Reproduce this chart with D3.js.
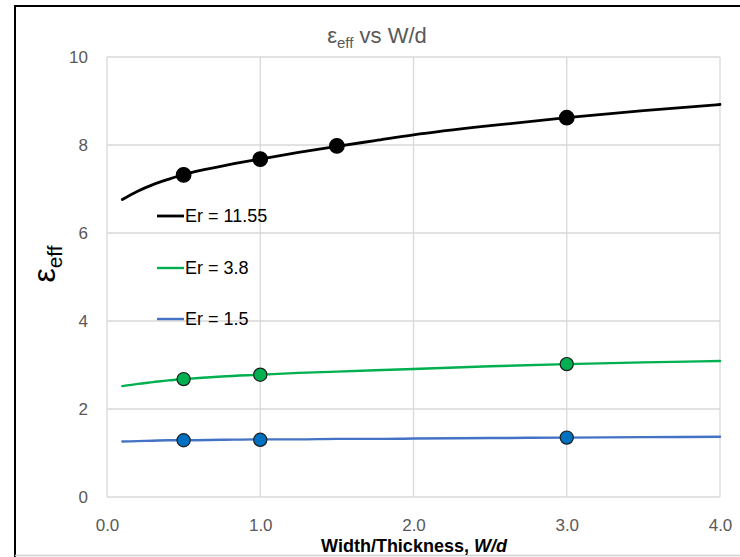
<!DOCTYPE html>
<html>
<head>
<meta charset="utf-8">
<script src="https://cdn.jsdelivr.net/npm/d3@7"></script>
<style>
  html, body { margin: 0; padding: 0; background: #fff; }
  svg { display: block; }
  text { font-family: "Liberation Sans", Arial, sans-serif; }
</style>
</head>
<body>
<svg id="chart" width="740" height="557"></svg>
<script>
// Effective permittivity vs width/thickness for three substrate permittivities
const wdGrid = [0.1, 0.2, 0.3, 0.4, 0.5, 0.75, 1.0, 1.25, 1.5, 1.75, 2.0, 2.5, 3.0, 3.5, 4.0];
const eps1155 = [6.76, 6.95, 7.10, 7.22, 7.33, 7.52, 7.68, 7.83, 7.97, 8.10, 8.23, 8.44, 8.62, 8.78, 8.92];
const eps38   = [2.52, 2.57, 2.61, 2.65, 2.68, 2.74, 2.78, 2.82, 2.85, 2.88, 2.91, 2.97, 3.02, 3.06, 3.09];
const eps15   = [1.26, 1.27, 1.28, 1.29, 1.29, 1.30, 1.31, 1.31, 1.32, 1.32, 1.33, 1.34, 1.35, 1.36, 1.37];

// Measured points
const ptsX1155 = [0.5, 1.0, 1.5, 3.0];
const ptsY1155 = [7.32, 7.68, 7.98, 8.62];
const ptsX38 = [0.5, 1.0, 3.0];
const ptsY38 = [2.68, 2.78, 3.02];
const ptsX15 = [0.5, 1.0, 3.0];
const ptsY15 = [1.29, 1.30, 1.35];

const seriesNames = ["Er = 11.55", "Er = 3.8", "Er = 1.5"];
const xTicks = [0, 1, 2, 3, 4];
const yTicks = [0, 2, 4, 6, 8, 10];

const svg = d3.select("#chart");
const plotL = 107, plotR = 720, plotT = 57, plotB = 497;

const x = d3.scaleLinear().domain([0, 4]).range([plotL, plotR]);
const y = d3.scaleLinear().domain([0, 10]).range([plotB, plotT]);

// Outer frame
svg.append("line").attr("x1", 15).attr("x2", 740).attr("y1", 6).attr("y2", 6)
  .attr("stroke", "#000").attr("stroke-width", 2);
svg.append("line").attr("x1", 15).attr("x2", 15).attr("y1", 5).attr("y2", 557)
  .attr("stroke", "#000").attr("stroke-width", 2);
svg.append("line").attr("x1", 15).attr("x2", 740).attr("y1", 555.5).attr("y2", 555.5)
  .attr("stroke", "#d0d0d0").attr("stroke-width", 1.5);

// Gridlines
const grid = svg.append("g").attr("stroke", "#d9d9d9").attr("stroke-width", 1.3);
xTicks.forEach(t => grid.append("line")
  .attr("x1", x(t)).attr("x2", x(t)).attr("y1", plotT).attr("y2", plotB));
yTicks.forEach(t => grid.append("line")
  .attr("x1", plotL).attr("x2", plotR).attr("y1", y(t)).attr("y2", y(t)));

// Axes (labels only)
const xAxis = svg.append("g").attr("transform", `translate(0,${plotB})`)
  .call(d3.axisBottom(x).tickValues(xTicks).tickFormat(d3.format(".1f")).tickSize(0).tickPadding(22));
const yAxis = svg.append("g").attr("transform", `translate(${plotL},0)`)
  .call(d3.axisLeft(y).tickValues(yTicks).tickFormat(d3.format("d")).tickSize(0).tickPadding(19));
[xAxis, yAxis].forEach(a => {
  a.select(".domain").remove();
  a.selectAll("text").attr("fill", "#595959").attr("font-size", 17)
    .attr("font-family", "'Liberation Sans', Arial, sans-serif");
});

// Curves
const line = d3.line().x(d => x(d[0])).y(d => y(d[1])).curve(d3.curveMonotoneX);
const curves = [
  { vals: eps1155, color: "#000000", width: 2.8 },
  { vals: eps38, color: "#00b050", width: 2.4 },
  { vals: eps15, color: "#4472c4", width: 2.4 }
];
curves.forEach(c => {
  svg.append("path").datum(wdGrid.map((w, i) => [w, c.vals[i]]))
    .attr("d", line).attr("fill", "none")
    .attr("stroke", c.color).attr("stroke-width", c.width)
    .attr("stroke-linecap", "round");
});

// Markers
const markerSets = [
  { xs: ptsX1155, ys: ptsY1155, fill: "#000000", stroke: "#000000", r: 7.3 },
  { xs: ptsX38, ys: ptsY38, fill: "#00b050", stroke: "#1e1e1e", r: 6.6 },
  { xs: ptsX15, ys: ptsY15, fill: "#0070c0", stroke: "#1e1e1e", r: 6.6 }
];
markerSets.forEach(m => {
  svg.append("g").selectAll("circle").data(m.xs.map((v, i) => [v, m.ys[i]]))
    .join("circle")
    .attr("cx", d => x(d[0])).attr("cy", d => y(d[1])).attr("r", m.r)
    .attr("fill", m.fill).attr("stroke", m.stroke).attr("stroke-width", 1.2);
});

// Legend
const legendY = [216, 268, 319];
seriesNames.forEach((name, i) => {
  svg.append("line").attr("x1", 157).attr("x2", 184)
    .attr("y1", legendY[i]).attr("y2", legendY[i])
    .attr("stroke", curves[i].color).attr("stroke-width", curves[i].width);
  svg.append("text").attr("x", 185).attr("y", legendY[i]).attr("dy", "0.35em")
    .attr("font-size", 18).attr("fill", "#000").text(name);
});

// Title
const title = svg.append("text").attr("x", 377).attr("y", 43)
  .attr("text-anchor", "middle").attr("fill", "#595959").attr("font-size", 22);
title.append("tspan").text("ε");
title.append("tspan").attr("font-size", 15).attr("dy", 5).text("eff");
title.append("tspan").attr("dy", -5).text(" vs W/d");

// Y axis label
const yl = svg.append("text")
  .attr("transform", "translate(55,264) rotate(-90)")
  .attr("text-anchor", "middle").attr("fill", "#000");
yl.append("tspan").attr("font-size", 32).text("ε");
yl.append("tspan").attr("font-size", 21).attr("dy", 7).text("eff");

// X axis label
const xl = svg.append("text").attr("x", 414).attr("y", 552)
  .attr("text-anchor", "middle").attr("fill", "#000")
  .attr("font-size", 18).attr("font-weight", "bold");
xl.append("tspan").text("Width/Thickness, ");
xl.append("tspan").attr("font-style", "italic").text("W/d");
</script>
</body>
</html>
